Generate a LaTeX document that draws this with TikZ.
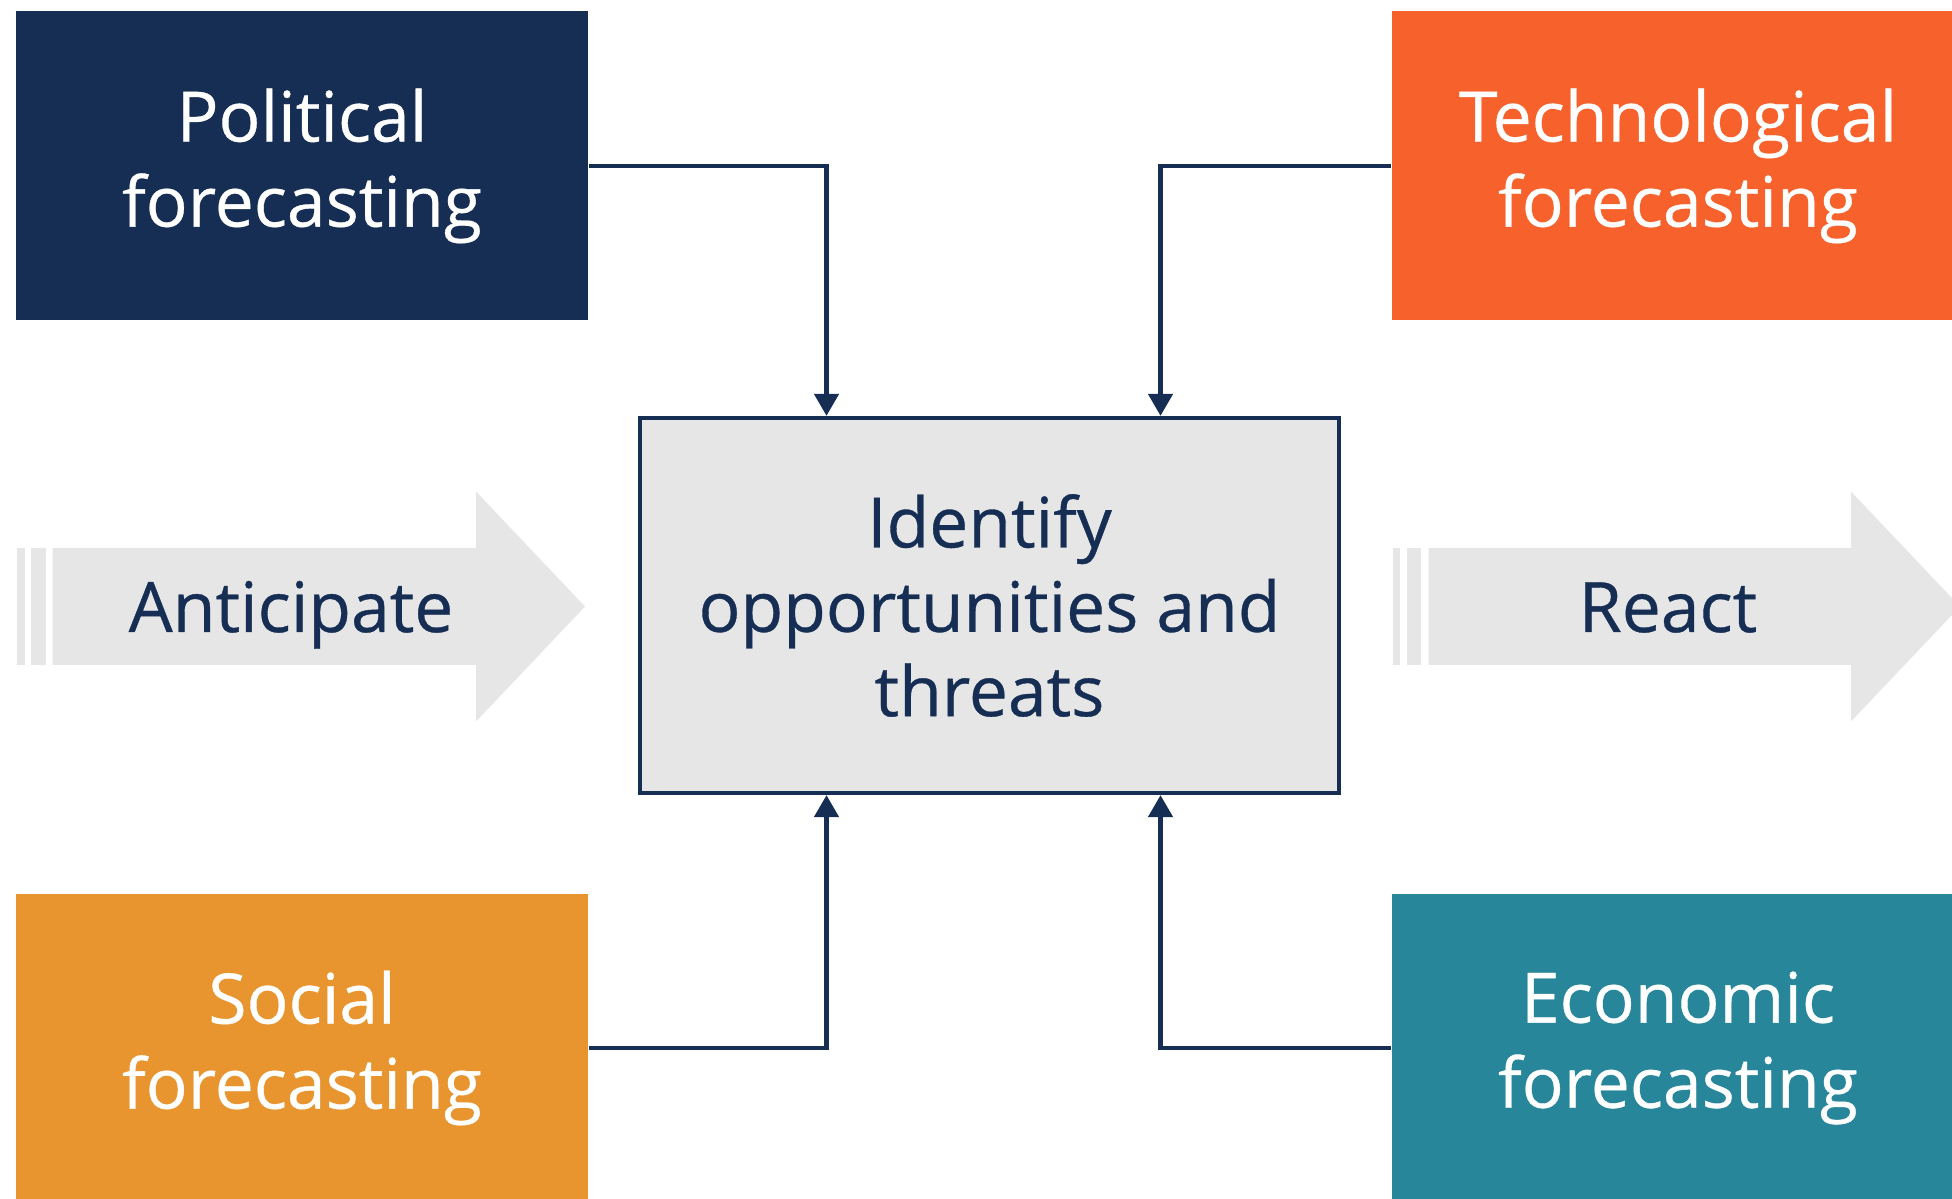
\documentclass[tikz,border=0pt]{standalone}
\usepackage{fontspec}
\setmainfont{Open Sans}[FakeBold=0.5]
\usepackage{xcolor}
\usepackage{tikz}
\usetikzlibrary{arrows.meta,positioning,calc}
\definecolor{navyblue}{RGB}{22,46,84}
\definecolor{techorange}{RGB}{247,97,43}
\definecolor{socialamber}{RGB}{233,149,47}
\definecolor{econteal}{RGB}{39,134,154}
\definecolor{paleGray}{RGB}{230,230,230}

\begin{document}
\begin{tikzpicture}[
    forecast/.style={rectangle, text=white, align=center, minimum width=5.72cm, minimum height=3.09cm, font=\fontsize{19.8}{24.2}\selectfont},
    hub/.style={rectangle, draw=navyblue, line width=1.2pt, fill=paleGray, text=navyblue, align=center, minimum width=6.99cm, minimum height=3.75cm, font=\fontsize{19.8}{24}\selectfont},
    flow/.style={fill=paleGray},
    flowtext/.style={text=navyblue, anchor=base, font=\fontsize{19.8}{24}\selectfont},
    link/.style={draw=navyblue, line width=1.3pt, -{Triangle[width=0.24cm,length=0.22cm]}}
]
\useasboundingbox (0,0) rectangle (19.52,-11.99);

% four forecasting boxes and the hub
\node[forecast, fill=navyblue] (pol) at (3.02,-1.66) {Political\\forecasting};
\node[forecast, fill=techorange] (tech) at (16.78,-1.66) {Technological\\forecasting};
\node[forecast, fill=socialamber] (soc) at (3.02,-10.48) {Social\\forecasting};
\node[forecast, fill=econteal] (eco) at (16.78,-10.48) {Economic\\forecasting};
\node[hub] (ident) at (9.895,-6.055) {Identify\\opportunities and\\threats};

% block arrows
\fill[flow] (0.526,-5.48) -- (4.76,-5.48) -- (4.76,-4.915) -- (5.85,-6.065) -- (4.76,-7.215) -- (4.76,-6.65) -- (0.526,-6.65) -- cycle;
\fill[flow] (0.17,-5.48) rectangle (0.25,-6.65);
\fill[flow] (0.31,-5.48) rectangle (0.455,-6.65);
\node[flowtext] (antic) at (2.91,-6.32) {Anticipate};

\fill[flow] (14.285,-5.48) -- (18.51,-5.48) -- (18.51,-4.915) -- (19.60,-6.065) -- (18.51,-7.215) -- (18.51,-6.65) -- (14.285,-6.65) -- cycle;
\fill[flow] (13.93,-5.48) rectangle (14.00,-6.65);
\fill[flow] (14.07,-5.48) rectangle (14.21,-6.65);
\node[flowtext] (react) at (16.68,-6.32) {React};

% connectors
\draw[link] (pol.east) -| ([xshift=-1.63cm]ident.north);
\draw[link] (tech.west) -| ([xshift=1.71cm]ident.north);
\draw[link] (soc.east) -| ([xshift=-1.63cm]ident.south);
\draw[link] (eco.west) -| ([xshift=1.71cm]ident.south);

\end{tikzpicture}
\end{document}
